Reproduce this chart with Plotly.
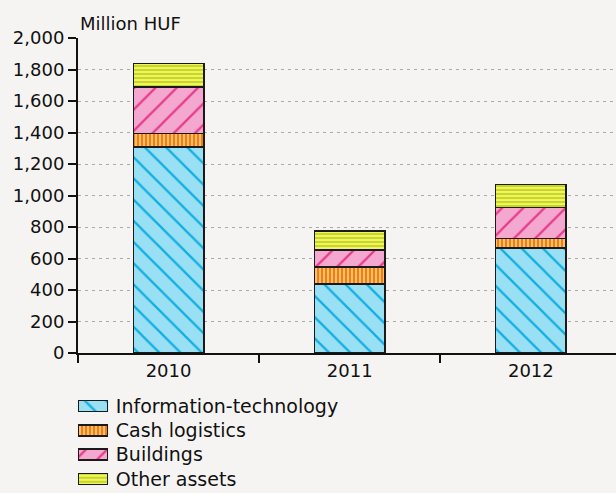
import plotly.graph_objects as go

years = ['2010', '2011', '2012']
it = [1308, 438, 667]
cash = [87, 108, 61]
buildings = [294, 108, 197]
other = [150, 121, 144]
names = ['Information-technology', 'Cash logistics', 'Buildings', 'Other assets']

styles = [
    ('#9ae0f5', '#11aee0', '\\', 15, 0.15),
    ('#f57f00', '#fbc58c', '|', 4, 0.45),
    ('#f5a8cf', '#e63c8c', '/', 15, 0.15),
    ('#cddc00', '#eef29a', '-', 4, 0.45),
]

fig = go.Figure()
for name, vals, (bg, fg, shape, size, sol) in zip(names, [it, cash, buildings, other], styles):
    mk = dict(color=bg, line=dict(color='#1a1a1a', width=1.5),
              pattern=dict(shape=shape, fgcolor=fg, bgcolor=bg, fgopacity=1,
                           size=size, solidity=sol, fillmode='replace'))
    fig.add_trace(go.Bar(x=years, y=vals, name=name, width=0.39, marker=mk,
                         showlegend=False))
    # legend swatch, drawn as a wide patterned rectangle like the original
    fig.add_trace(go.Bar(x=[1], y=[name], orientation='h', width=0.45,
                         marker=mk, xaxis='x2', yaxis='y2', showlegend=False,
                         hoverinfo='skip'))

bgc = '#f5f4f2'
fig.update_layout(
    barmode='stack',
    width=616, height=493,
    margin=dict(l=78, r=0, t=38, b=0),
    paper_bgcolor=bgc, plot_bgcolor=bgc,
    font=dict(family='DejaVu Sans', size=18, color='#111'),
    xaxis=dict(range=[-0.5, 2.47], showline=True, linecolor='#111', linewidth=2,
               ticks='outside', tickson='boundaries', ticklen=8, tickwidth=2,
               tickcolor='#111', showgrid=False, anchor='y', automargin=False),
    yaxis=dict(domain=[0.3077, 1], range=[0, 2000], dtick=200, tickformat=',d',
               showline=True, linecolor='#111', linewidth=2, ticks='outside',
               ticklen=8, tickwidth=2, tickcolor='#111', showgrid=True,
               gridcolor='#aaa', griddash='3px,4px', gridwidth=1, zeroline=False,
               automargin=False),
    xaxis2=dict(domain=[0, 0.0558], range=[0, 1], visible=False, anchor='y2',
                automargin=False),
    yaxis2=dict(domain=[0.004, 0.218], anchor='x2', side='right', autorange='reversed',
                showline=False, showgrid=False, zeroline=False, ticks='outside',
                ticklen=3, tickcolor='rgba(0,0,0,0)', tickfont=dict(size=19),
                automargin=False),
    annotations=[dict(text='Million HUF', xref='paper', yref='paper', x=0, y=1,
                      xanchor='left', yanchor='bottom', yshift=2, showarrow=False,
                      font=dict(size=18))],
)

fig.write_html('out.html', config={'displayModeBar': False},
               post_script="document.body.style.margin='0';"
                           "document.body.style.overflow='hidden';")
